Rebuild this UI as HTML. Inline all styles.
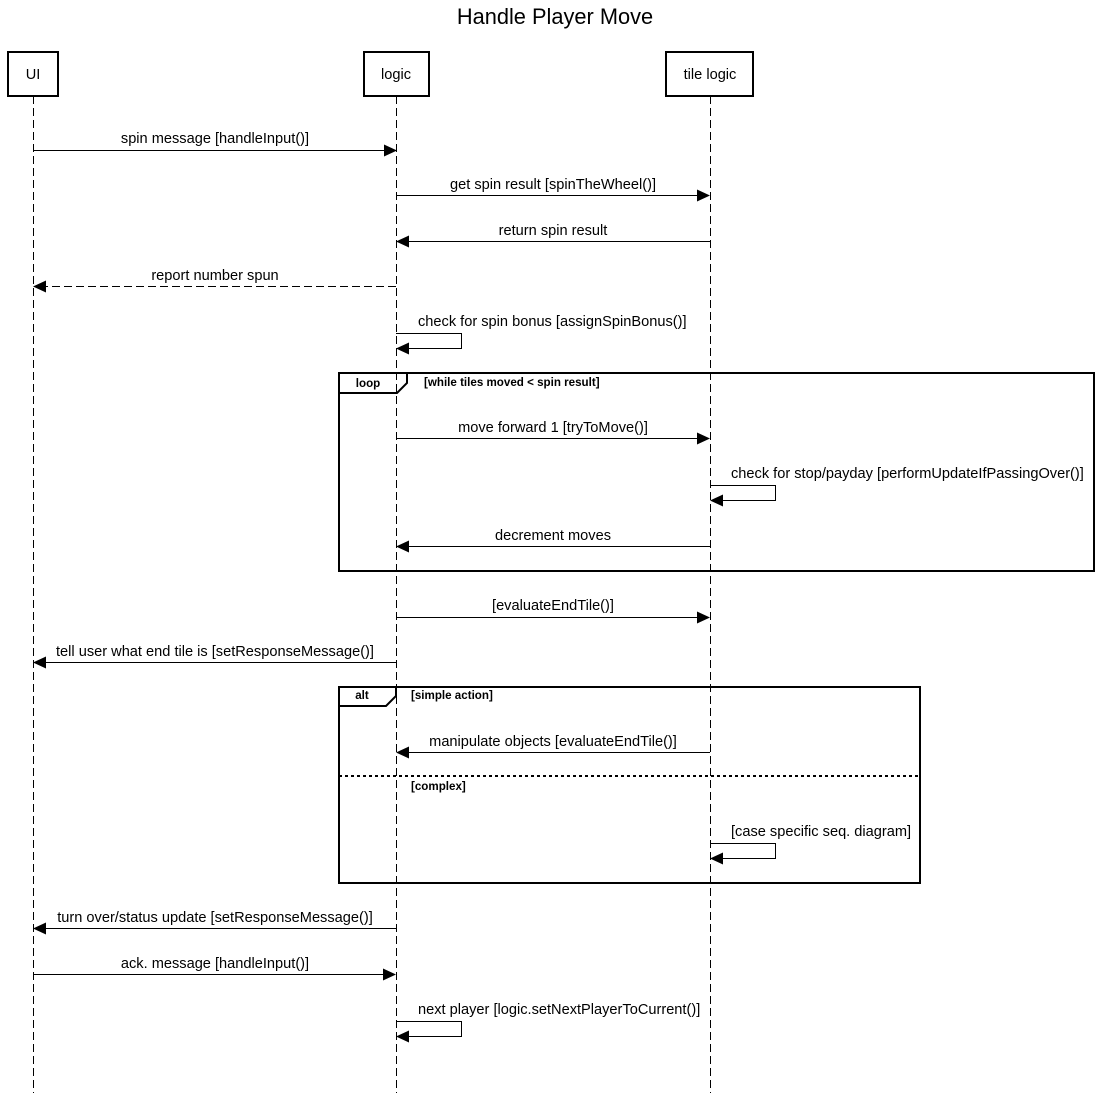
<!DOCTYPE html>
<html><head><meta charset="utf-8"><style>body{margin:0;background:#fff}svg{display:block}text{font-family:"Liberation Sans",Arial,sans-serif;fill:#000}</style></head>
<body>
<svg width="1110" height="1093" viewBox="0 0 1110 1093" xmlns="http://www.w3.org/2000/svg">
<defs>
<marker id="a" markerWidth="13" markerHeight="12" refX="12" refY="6" orient="auto" markerUnits="userSpaceOnUse"><path d="M0,0 L13,6 L0,12 z" fill="#000"/></marker>
</defs>
<text x="555" y="24" font-size="21.8" text-anchor="middle">Handle Player Move</text>
<g stroke="#000" stroke-width="1" stroke-dasharray="8,4" fill="none">
<line x1="33.5" y1="96" x2="33.5" y2="1093"/>
<line x1="396.5" y1="96" x2="396.5" y2="1093"/>
<line x1="710.5" y1="96" x2="710.5" y2="1093"/>
</g>
<g stroke="#000" stroke-width="2" fill="#fff">
<rect x="8" y="52" width="50" height="44"/>
<rect x="364" y="52" width="65" height="44"/>
<rect x="666" y="52" width="87" height="44"/>
</g>
<g font-size="14.6" text-anchor="middle">
<text x="33" y="79">UI</text><text x="396" y="79">logic</text><text x="710" y="79">tile logic</text>
</g>
<g stroke="#000" stroke-width="1" fill="none" marker-end="url(#a)">
<line x1="33" y1="150.5" x2="396" y2="150.5"/>
<line x1="396" y1="195.5" x2="709" y2="195.5"/>
<line x1="710" y1="241.5" x2="397" y2="241.5"/>
<line x1="396" y1="286.5" x2="34" y2="286.5" stroke-dasharray="8,4"/>
<polyline points="396,333.5 461.5,333.5 461.5,348.5 397,348.5"/>
<line x1="396" y1="438.5" x2="709" y2="438.5"/>
<polyline points="710,485.5 775.5,485.5 775.5,500.5 711,500.5"/>
<line x1="710" y1="546.5" x2="397" y2="546.5"/>
<line x1="396" y1="617.5" x2="709" y2="617.5"/>
<line x1="396" y1="662.5" x2="34" y2="662.5"/>
<line x1="710" y1="752.5" x2="397" y2="752.5"/>
<polyline points="710,843.5 775.5,843.5 775.5,858.5 711,858.5"/>
<line x1="396" y1="928.5" x2="34" y2="928.5"/>
<line x1="33" y1="974.5" x2="395" y2="974.5"/>
<polyline points="396,1021.5 461.5,1021.5 461.5,1036.5 397,1036.5"/>
</g>
<g font-size="14.6" fill="#000">
<text x="215" y="143" text-anchor="middle">spin message [handleInput()]</text>
<text x="553" y="189" text-anchor="middle">get spin result [spinTheWheel()]</text>
<text x="553" y="235" text-anchor="middle">return spin result</text>
<text x="215" y="280" text-anchor="middle">report number spun</text>
<text x="418" y="326">check for spin bonus [assignSpinBonus()]</text>
<text x="553" y="432" text-anchor="middle">move forward 1 [tryToMove()]</text>
<text x="731" y="478">check for stop/payday [performUpdateIfPassingOver()]</text>
<text x="553" y="540" text-anchor="middle">decrement moves</text>
<text x="553" y="610" text-anchor="middle">[evaluateEndTile()]</text>
<text x="215" y="656" text-anchor="middle">tell user what end tile is [setResponseMessage()]</text>
<text x="553" y="746" text-anchor="middle">manipulate objects [evaluateEndTile()]</text>
<text x="731" y="836">[case specific seq. diagram]</text>
<text x="215" y="922" text-anchor="middle">turn over/status update [setResponseMessage()]</text>
<text x="215" y="968" text-anchor="middle">ack. message [handleInput()]</text>
<text x="418" y="1014">next player [logic.setNextPlayerToCurrent()]</text>
</g>
<g stroke="#000" stroke-width="2" fill="none">
<rect x="339" y="373" width="755" height="198"/>
<path d="M339,393 L397,393 L407,383 L407,373"/>
<rect x="339" y="687" width="581" height="196"/>
<path d="M339,706 L386,706 L396,696 L396,687"/>
<line x1="339" y1="776" x2="920" y2="776" stroke-dasharray="3,3"/>
</g>
<g font-size="11.6" font-weight="bold">
<text x="368" y="387" text-anchor="middle">loop</text>
<text x="424" y="386">[while tiles moved &lt; spin result]</text>
<text x="362" y="699" text-anchor="middle">alt</text>
<text x="411" y="699">[simple action]</text>
<text x="411" y="790">[complex]</text>
</g>
</svg>
</body></html>
